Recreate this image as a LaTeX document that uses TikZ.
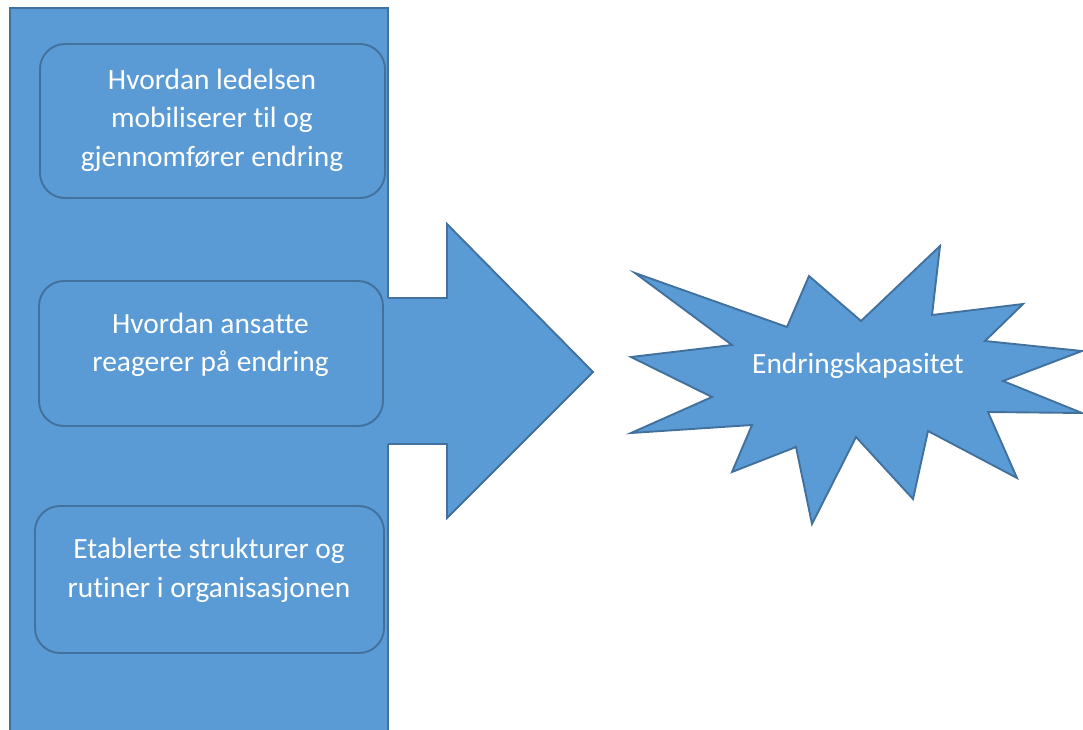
\documentclass[tikz,border=0pt]{standalone}
\usepackage{fontspec}
\setmainfont[Ligatures={NoCommon}]{Carlito}
\definecolor{shfill}{HTML}{5B9BD5}
\definecolor{shline}{HTML}{41719C}
\begin{document}
\begin{tikzpicture}[x=1pt,y=-1pt,
  shape fill/.style={fill=shfill},
  shape line/.style={draw=shline,line width=1.9pt,line join=miter},
  boxstyle/.style={shape fill,shape line,rounded corners=25pt},
  txt/.style={text=white,font=\fontsize{29.4}{38}\selectfont,anchor=base,inner sep=0pt}]
\useasboundingbox (0,0) rectangle (1083,730);
\clip (0,0) rectangle (1083,730);
% tall background rectangle
\path[shape fill,shape line] (10,8) rectangle (388,745);
% arrow
\fill[shfill] (386,298) -- (447,298) -- (447,224) -- (593,372) -- (447,518) -- (447,444) -- (386,444) -- cycle;
\draw[shape line] (388,298) -- (447,298) -- (447,224) -- (593,372) -- (447,518) -- (447,444) -- (388,444);
% boxes
\path[boxstyle] (40,44) rectangle (385,198);
\path[boxstyle] (39,281) rectangle (383,426);
\path[boxstyle] (35,506) rectangle (384,653);
\node[txt] (b1a) at (212,90) {Hvordan ledelsen};
\node[txt] (b1b) at (212,128) {mobiliserer til og};
\node[txt] (b1c) at (212,167) {gjennomfører endring};
\node[txt] (b2a) at (210.5,333) {Hvordan ansatte};
\node[txt] (b2b) at (210.5,371) {reagerer på endring};
\node[txt] (b3a) at (209,558) {Etablerte strukturer og};
\node[txt] (b3b) at (209,597) {rutiner i organisasjonen};
% star
\path[shape fill,shape line] (635,273) -- (787,327) -- (809,276) -- (861,321) -- (940,246) -- (932,315)
  -- (1023,304) -- (985,341) -- (1082,351) -- (1003,381) -- (1082,413) -- (988,412)
  -- (1017,478) -- (928,431) -- (913,499) -- (856,437) -- (812,524) -- (796,447)
  -- (732,472) -- (752,425) -- (631,433) -- (712,397) -- (631,357) -- (732,345) -- cycle;
\node[txt] (star) at (858,373) {Endringskapasitet};
\end{tikzpicture}
\end{document}
